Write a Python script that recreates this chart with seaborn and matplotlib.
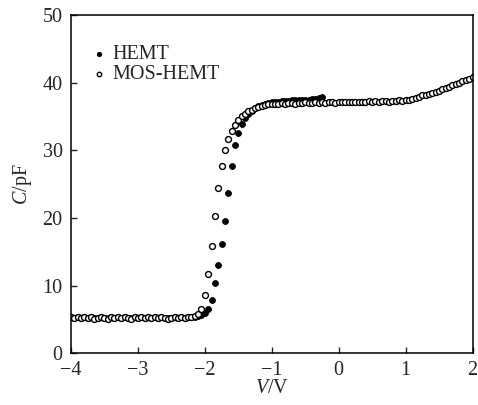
import numpy as np
import pandas as pd
import seaborn as sns
import matplotlib.pyplot as plt

# bias sweep: -4 V upward in 0.05 V steps
v_step = 0.05
v_hemt = np.round(np.arange(-4.0, -0.25 + 1e-9, v_step), 2)
v_mos = np.round(np.arange(-4.0, 2.0 + 1e-9, v_step), 2)

c_hemt = [5.3, 5.2, 5.3, 5.2, 5.3, 5.2, 5.3, 5.2, 5.2, 5.3, 5.2, 5.2, 5.3, 5.2, 5.3, 5.2, 5.3, 5.2, 5.2,
          5.3, 5.2, 5.3, 5.2, 5.3, 5.2, 5.3, 5.2, 5.3, 5.2, 5.2, 5.2, 5.3, 5.2, 5.3, 5.2, 5.3, 5.3,
          5.4, 5.5, 5.7, 6.0, 6.6, 7.9, 10.3, 13.1, 16.2, 19.6, 23.7, 27.7, 30.8, 32.6, 33.9, 34.7,
          35.3, 35.8, 36.2, 36.5, 36.7, 36.9, 37.0, 37.1,
          37.2, 37.2, 37.3, 37.3, 37.3, 37.4, 37.4, 37.4, 37.5, 37.5, 37.5, 37.6, 37.6, 37.7, 37.9]

c_mos = [5.3, 5.2, 5.3, 5.2, 5.3, 5.2, 5.3, 5.1, 5.2, 5.3, 5.2, 5.1, 5.3, 5.2, 5.3, 5.2, 5.3, 5.2, 5.1,
         5.3, 5.2, 5.3, 5.2, 5.3, 5.2, 5.3, 5.2, 5.3, 5.2, 5.1, 5.2, 5.3, 5.2, 5.3, 5.2, 5.3, 5.4,
         5.5, 5.8, 6.6, 8.6, 11.7, 15.8, 20.3, 24.4, 27.6, 30.0, 31.7, 32.9, 33.7, 34.4, 35.0, 35.4,
         35.8, 36.0, 36.3, 36.4, 36.6, 36.7, 36.8, 36.8,
         36.9, 36.9, 37.0, 36.9, 37.0, 37.0, 36.9, 37.0, 37.0, 37.1, 37.0, 37.0, 37.1, 37.0, 37.1,
         37.0, 37.1, 37.1, 37.0,
         37.1, 37.2, 37.1, 37.2, 37.1, 37.2, 37.2, 37.1, 37.2, 37.3, 37.2, 37.3, 37.2, 37.3, 37.3,
         37.2, 37.3, 37.3, 37.4, 37.3,
         37.5, 37.5, 37.6, 37.7, 37.9, 38.1, 38.2, 38.3, 38.4, 38.6, 38.8, 39.0, 39.2, 39.4, 39.6,
         39.8, 40.0, 40.2, 40.4, 40.6, 40.8]

x_ticks = [-4, -3, -2, -1, 0, 1, 2]
y_ticks = [0, 10, 20, 30, 40, 50]

sns.set_style("white")
plt.rcParams['font.family'] = ['Liberation Serif', 'DejaVu Serif']
plt.rcParams['mathtext.fontset'] = 'custom'
plt.rcParams['mathtext.rm'] = 'Liberation Serif'
plt.rcParams['mathtext.it'] = 'Liberation Serif:italic'

df_hemt = pd.DataFrame({'V': v_hemt, 'C': c_hemt})
df_mos = pd.DataFrame({'V': v_mos, 'C': c_mos})

fig = plt.figure(figsize=(4.78, 4.05), dpi=100)
ax = fig.add_axes([0.1485, 0.128, 0.84, 0.835])

sns.scatterplot(data=df_hemt, x='V', y='C', ax=ax, marker='o', s=18,
                color='black', edgecolor='black', linewidth=0.6, label='HEMT')
sns.scatterplot(data=df_mos, x='V', y='C', ax=ax, marker='o', s=18,
                facecolor='white', edgecolor='black', linewidth=1.0, label='MOS-HEMT')

ax.set_xlim(-4, 2)
ax.set_ylim(0, 50)
ax.set_xticks(x_ticks)
ax.set_yticks(y_ticks)
ax.set_xticklabels(['\u2212' + str(abs(t)) if t < 0 else str(t) for t in x_ticks])
ax.tick_params(axis='both', direction='in', length=4, width=1, labelsize=14.5,
               bottom=True, left=True, top=False, right=False, pad=6)
for sp in ax.spines.values():
    sp.set_visible(True)
    sp.set_color('black')
    sp.set_linewidth(1.1)

ax.set_xlabel(r'$V$/V', fontsize=14.5, labelpad=-1)
ax.set_ylabel(r'$C$/pF', fontsize=14.5, labelpad=6)

ax.legend(loc='upper left', bbox_to_anchor=(0.0, 0.935), frameon=False, fontsize=14.5,
          handletextpad=-0.35, borderaxespad=0, labelspacing=0.05, markerscale=0.75)

fig.savefig('out.png', dpi=100)
